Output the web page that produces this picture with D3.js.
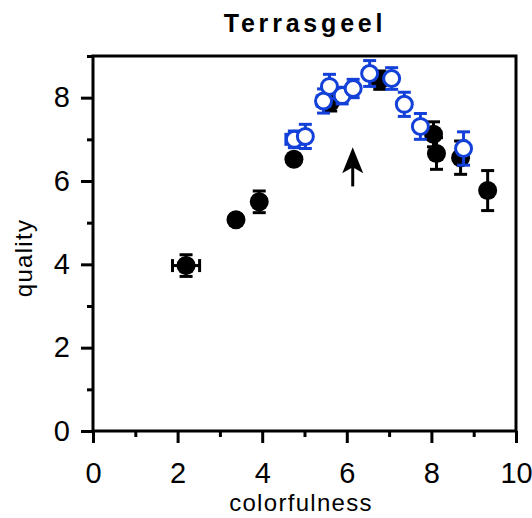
<!DOCTYPE html>
<html><head><meta charset="utf-8">
<script src="https://cdn.jsdelivr.net/npm/d3@7"></script>
<style>body{margin:0;background:#fff}svg{display:block}</style>
</head><body>
<script>
// ---- data ----
const title = "Terrasgeel";
const xLabel = "colorfulness";
const yLabel = "quality";
const xTicks = [0, 2, 4, 6, 8, 10];
const xMinorTicks = [1, 3, 5, 7, 9];
const yTicks = [0, 2, 4, 6, 8];
const yMinorTicks = [1, 3, 5, 7, 9];

// black series (filled)
const blackX   = [2.20, 3.38, 3.93, 4.75, 5.62, 6.78, 8.05, 8.12, 8.69, 9.33];
const blackY   = [3.97, 5.07, 5.50, 6.52, 7.90, 8.42, 7.12, 6.66, 6.56, 5.77];
const blackErrY= [0.26, 0.12, 0.26, 0.12, 0.22, 0.22, 0.30, 0.38, 0.40, 0.48];
const blackErrX= [0.32, 0.00, 0.00, 0.00, 0.00, 0.00, 0.00, 0.00, 0.00, 0.00];

// blue series (open)
const blueX    = [4.76, 5.02, 5.45, 5.59, 5.89, 6.15, 6.54, 7.06, 7.36, 7.74, 8.76];
const blueY    = [7.00, 7.07, 7.92, 8.27, 8.05, 8.22, 8.58, 8.46, 7.84, 7.31, 6.78];
const blueErrY = [0.20, 0.29, 0.29, 0.29, 0.20, 0.22, 0.31, 0.26, 0.29, 0.31, 0.40];
const blueErrX = [0.20, 0.00, 0.15, 0.00, 0.00, 0.00, 0.00, 0.00, 0.00, 0.00, 0.00];

// arrow (data coords)
const arrowX = [6.14];
const arrowY0 = [5.87];
const arrowY1 = [6.81];

// ---- layout ----
const W = 532, H = 518;
const m = {left: 93, right: 16, top: 56, bottom: 87};
const svg = d3.select("body").append("svg").attr("width", W).attr("height", H);
const x = d3.scaleLinear().domain([0, 10]).range([m.left, W - m.right]);
const y = d3.scaleLinear().domain([0, 9]).range([H - m.bottom, m.top]);
const font = "'Liberation Sans', Arial, Helvetica, sans-serif";
const blue = "#1240d8";

// frame
svg.append("rect").attr("x", x(0)).attr("y", y(9)).attr("width", x(10) - x(0)).attr("height", y(0) - y(9))
  .attr("fill", "none").attr("stroke", "#000").attr("stroke-width", 3);

// axes
function styleAxis(g) {
  g.select(".domain").remove();
  g.selectAll(".tick line").attr("stroke", "#000").attr("stroke-width", 3);
  g.selectAll(".tick text").attr("font-family", font).attr("font-size", 29).attr("fill", "#000");
}
const gx = svg.append("g").attr("transform", `translate(0,${y(0)})`)
  .call(d3.axisBottom(x).tickValues(xTicks).tickSize(12).tickPadding(19).tickFormat(d3.format("d")));
styleAxis(gx);
const gxm = svg.append("g").attr("transform", `translate(0,${y(0)})`)
  .call(d3.axisBottom(x).tickValues(xMinorTicks).tickSize(6).tickFormat(""));
styleAxis(gxm);
const gy = svg.append("g").attr("transform", `translate(${x(0)},0)`)
  .call(d3.axisLeft(y).tickValues(yTicks).tickSize(12).tickPadding(11).tickFormat(d3.format("d")));
styleAxis(gy);
const gym = svg.append("g").attr("transform", `translate(${x(0)},0)`)
  .call(d3.axisLeft(y).tickValues(yMinorTicks).tickSize(6).tickFormat(""));
styleAxis(gym);

// labels
svg.append("text").attr("x", 305).attr("y", 32).attr("text-anchor", "middle")
  .attr("font-family", font).attr("font-weight", "bold").attr("font-size", 25).attr("letter-spacing", 3.8)
  .text(title);
svg.append("text").attr("x", 301).attr("y", 511).attr("text-anchor", "middle")
  .attr("font-family", font).attr("font-size", 24).attr("letter-spacing", 1.3).text(xLabel);
svg.append("text").attr("transform", `translate(32,258) rotate(-90)`).attr("text-anchor", "middle")
  .attr("font-family", font).attr("font-size", 24).attr("letter-spacing", 1.3).text(yLabel);

// series drawing
function drawSeries(xs, ys, ex, ey, color, filled) {
  const data = xs.map((v, i) => ({x: v, y: ys[i], ex: ex[i], ey: ey[i]}));
  const g = svg.append("g").attr("stroke", color).attr("stroke-width", 3).attr("fill", "none");
  const cap = 6.5;
  data.forEach(d => {
    if (d.ey > 0) {
      g.append("line").attr("x1", x(d.x)).attr("x2", x(d.x)).attr("y1", y(d.y - d.ey)).attr("y2", y(d.y + d.ey));
      [d.y - d.ey, d.y + d.ey].forEach(v =>
        g.append("line").attr("x1", x(d.x) - cap).attr("x2", x(d.x) + cap).attr("y1", y(v)).attr("y2", y(v)));
    }
    if (d.ex > 0) {
      g.append("line").attr("y1", y(d.y)).attr("y2", y(d.y)).attr("x1", x(d.x - d.ex)).attr("x2", x(d.x + d.ex));
      [d.x - d.ex, d.x + d.ex].forEach(v =>
        g.append("line").attr("y1", y(d.y) - cap).attr("y2", y(d.y) + cap).attr("x1", x(v)).attr("x2", x(v)));
    }
  });
  data.forEach(d => {
    if (filled) {
      g.append("circle").attr("cx", x(d.x)).attr("cy", y(d.y)).attr("r", 9.5).attr("fill", color).attr("stroke", "none");
    } else {
      g.append("circle").attr("cx", x(d.x)).attr("cy", y(d.y)).attr("r", 8).attr("fill", "#fff").attr("stroke", color).attr("stroke-width", 3);
    }
  });
}
drawSeries(blackX, blackY, blackErrX, blackErrY, "#000", true);
drawSeries(blueX, blueY, blueErrX, blueErrY, blue, false);

// arrow
arrowX.forEach((ax, i) => {
  const px = x(ax), py0 = y(arrowY0[i]), py1 = y(arrowY1[i]);
  svg.append("line").attr("x1", px).attr("x2", px).attr("y1", py0).attr("y2", py1 + 15)
    .attr("stroke", "#000").attr("stroke-width", 3);
  svg.append("path")
    .attr("d", `M${px},${py1} L${px + 10.5},${py1 + 26} L${px},${py1 + 20} L${px - 10.5},${py1 + 26} Z`)
    .attr("fill", "#000");
});
</script>
</body></html>
